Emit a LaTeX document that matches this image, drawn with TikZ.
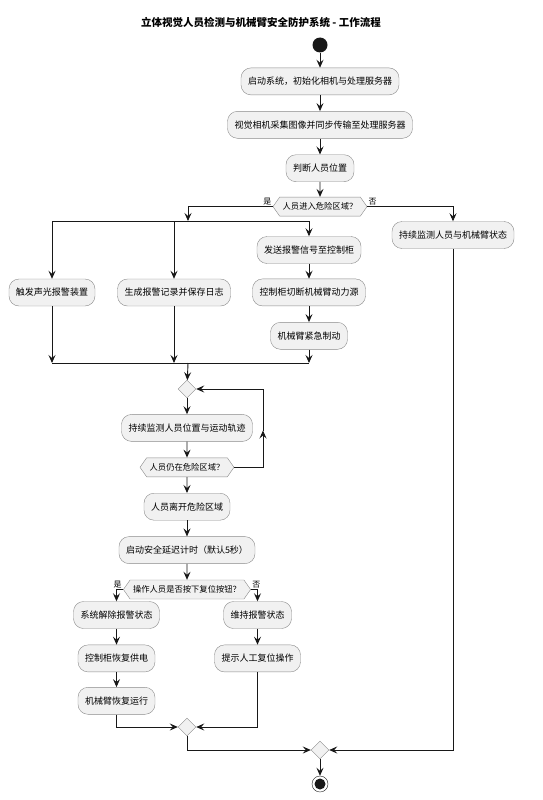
\documentclass[tikz,border=0pt]{standalone}
\usepackage{fontspec}
\newfontfamily\cjk{Noto Sans CJK SC}
\usetikzlibrary{shapes.geometric, shapes.symbols, arrows.meta, positioning, calc}
\definecolor{actfill}{HTML}{F1F1F1}
\definecolor{actline}{HTML}{8A8A8A}
\definecolor{flowline}{HTML}{181818}

\begin{document}
\begin{tikzpicture}[
        x=1pt, y=-1pt,
        font=\cjk\fontsize{9}{11}\selectfont,
        act/.style={draw=actline, fill=actfill, rounded corners=10pt, minimum height=27pt, inner xsep=7pt, align=center},
        cond/.style={draw=actline, fill=actfill, signal, signal to=west and east, signal pointer angle=110, minimum height=19pt, inner xsep=3pt, font=\cjk\fontsize{8.3}{10}\selectfont},
        merge/.style={draw=actline, fill=actfill, diamond, minimum width=18pt, minimum height=18pt, inner sep=0pt},
        startnode/.style={circle, fill=flowline, minimum size=15pt, inner sep=0pt},
        stopnode/.style={circle, draw=flowline, fill=white, minimum size=16pt, inner sep=0pt,
            path picture={\fill[flowline] (path picture bounding box.center) circle (5.5pt);}},
        lbl/.style={font=\cjk\fontsize{8}{9}\selectfont, inner sep=1pt},
        line/.style={draw=flowline, line width=0.9pt},
        arr/.style={line, -{Stealth[length=8pt, width=7pt, inset=3pt]}}
    ]
        \useasboundingbox (0,0) rectangle (543,800);
        \node[font=\cjk\bfseries\fontsize{10.5}{12}\selectfont] (title) at (261,22) {立体视觉人员检测与机械臂安全防护系统 - 工作流程};

        \node[startnode] (start) at (320,45) {};
        \node[act, below=15pt of start]    (init)    {启动系统，初始化相机与处理服务器};
        \node[act, below=16pt of init]     (capture) {视觉相机采集图像并同步传输至处理服务器};
        \node[act, below=16pt of capture]  (locate)  {判断人员位置};
        \node[cond, below=15pt of locate]  (inzone)  {人员进入危险区域？};

        % alarm branch
        \coordinate (fork) at (188,221);
        \node[act] (signal) at (309,250)  {发送报警信号至控制柜};
        \node[act, below=15pt of signal]  (cutoff) {控制柜切断机械臂动力源};
        \node[act, below=16pt of cutoff]  (brake)  {机械臂紧急制动};
        \node[act] (alarm) at (52,292.5)  {触发声光报警装置};
        \node[act] (log)   at (174,292.5) {生成报警记录并保存日志};
        \coordinate (join) at (188,363);

        % normal branch
        \node[act] (watch) at (453,235) {持续监测人员与机械臂状态};

        % tracking loop
        \node[merge] (merge1) at (187,389) {};
        \node[act,  below=16pt of merge1] (track) {持续监测人员位置与运动轨迹};
        \node[cond, below=16pt of track]  (still) {人员仍在危险区域？};
        \coordinate (loop) at (263,389);
        \node[act,  below=16pt of still]  (leave) {人员离开危险区域};
        \node[act,  below=16pt of leave]  (delay) {启动安全延迟计时（默认5秒）};
        \node[cond, below=16pt of delay]  (reset) {操作人员是否按下复位按钮？};

        % reset branch
        \node[act] (release) at (116.5,615) {系统解除报警状态};
        \node[act, below=16pt of release] (power)  {控制柜恢复供电};
        \node[act, below=15pt of power]   (resume) {机械臂恢复运行};
        \node[act] (keep) at (257.5,615)  {维持报警状态};
        \node[act, below=16pt of keep]    (prompt) {提示人工复位操作};
        \node[merge] (merge2) at (187,727) {};
        \node[merge] (merge3) at (320,750) {};
        \node[stopnode] (stop) at (320,784) {};

        \draw[arr] (start)   -- (init);
        \draw[arr] (init)    -- (capture);
        \draw[arr] (capture) -- (locate);
        \draw[arr] (locate)  -- (inzone);
        \draw[arr] (inzone.west) node[lbl, above left]{是} -| (fork);
        \draw[arr] (inzone.east) node[lbl, above right]{否} -| (watch);

        \draw[line] (alarm |- fork) -- (signal |- fork);
        \draw[arr] (alarm |- fork)  -- (alarm);
        \draw[arr] (log |- fork)    -- (log);
        \draw[arr] (signal |- fork) -- (signal);
        \draw[arr] (signal) -- (cutoff);
        \draw[arr] (cutoff) -- (brake);
        \draw[line] (alarm |- join) -- (brake |- join);
        \draw[arr] (alarm) -- (alarm |- join);
        \draw[arr] (log)   -- (log |- join);
        \draw[arr] (brake) -- (brake |- join);
        \draw[arr] (join)  -- (merge1);

        \draw[arr] (merge1) -- (track);
        \draw[arr] (track)  -- (still);
        \draw[arr] (still.east) -| ($(still.east -| loop)!0.47!(loop)$);
        \draw[arr] ($(still.east -| loop)!0.47!(loop)$) -- (loop) -- (merge1.east);
        \draw[arr] (still)  -- (leave);
        \draw[arr] (leave)  -- (delay);
        \draw[arr] (delay)  -- (reset);

        \draw[arr] (reset.west) node[lbl, above left]{是} -| (release);
        \draw[arr] (reset.east) node[lbl, above right]{否} -| (keep);
        \draw[arr] (release) -- (power);
        \draw[arr] (power)   -- (resume);
        \draw[arr] (keep)    -- (prompt);
        \draw[arr] (resume)  |- (merge2);
        \draw[arr] (prompt)  |- (merge2);
        \draw[arr] (merge2)  |- (merge3);
        \draw[arr] (watch)   |- (merge3);
        \draw[arr] (merge3)  -- (stop);
    \end{tikzpicture}
\end{document}
